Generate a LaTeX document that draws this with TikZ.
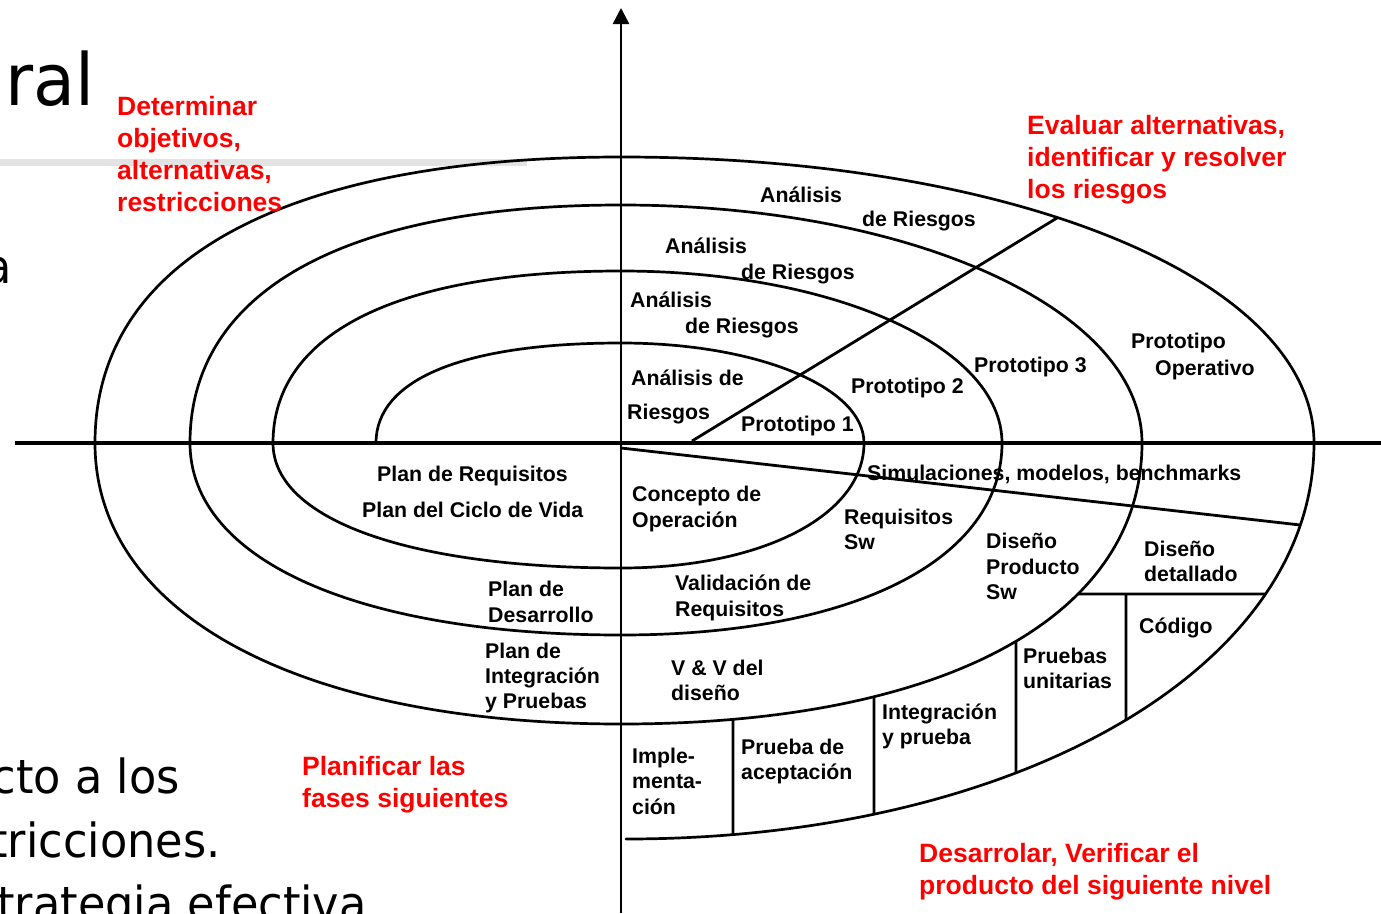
\documentclass[tikz,border=0pt]{standalone}
\usepackage{fontspec}
\setmainfont{Liberation Sans}
\newfontfamily\slidefont[FakeStretch=0.95]{DejaVu Sans}
\usetikzlibrary{arrows.meta,intersections}

\begin{document}
\begin{tikzpicture}[x=1pt,y=-1pt,
  spiral/.style={line width=2.7pt, line cap=round, line join=round},
  divider/.style={line width=2.8pt},
  lbl/.style={anchor=base west, inner sep=0pt, font=\bfseries\fontsize{21.3}{25}\selectfont},
  phase/.style={anchor=base west, inner sep=0pt, text=red, font=\bfseries\fontsize{26.5}{32}\selectfont},
  slide/.style={anchor=base east, inner sep=0pt, font=\slidefont\fontsize{47}{55}\selectfont}
]
\useasboundingbox (0,0) rectangle (1381,913);
\clip (0,0) rectangle (1381,913);

% slide background: title rule and body text
\fill[gray!22] (0,159) rectangle (527,166);
\node[anchor=base west, inner sep=0pt, font=\slidefont\fontsize{72}{80}\selectfont] (title) at (5,105) {ral};
\node[slide] (s1) at (12,283) {a};
\node[slide] (s2) at (180,793) {cto a los};
\node[slide] (s3) at (221,857) {tricciones.};
\node[slide] (s4) at (367,920) {trategia efectiva};

% axes
\draw[line width=3.2pt] (15,443) -- (1381,443);
\draw[line width=2.6pt, -{Triangle[length=16pt,width=16pt]}] (621,913) -- (621,8);

% spiral, quadrant by quadrant
\draw[spiral] (376,443)
  .. controls (376,379) and (464.2,343) .. (621,343)
  .. controls (757,343) and (864,387) .. (864,443)
  .. controls (864,515.5) and (762,568) .. (621,568)
  .. controls (408.7,568) and (273,519.3) .. (273,443)
  .. controls (273,332.9) and (398.3,271) .. (621,271)
  .. controls (834.4,271) and (1002,346.7) .. (1002,443)
  .. controls (1002,560.1) and (853.4,635) .. (621,635)
  .. controls (358.1,635) and (190,560.1) .. (190,443)
  .. controls (190,290.7) and (345.2,205) .. (621,205)
  .. controls (912.8,205) and (1142,309.7) .. (1142,443);
\draw[spiral, name path global=arcB] (1142,443) .. controls (1142,617.2) and (944,724) .. (621,724);
\draw[spiral] (621,724)
  .. controls (300.1,724) and (95,614.4) .. (95,443)
  .. controls (95,260) and (284.4,157) .. (621,157);
\draw[spiral, name path global=arcT] (621,157) .. controls (1016,157) and (1314,280) .. (1314,443);
\draw[spiral, name path global=arcO] (1314,443) .. controls (1314,668.7) and (1016,839) .. (626,839);

% risk / prototype divider
\path[name path=dg] (692,441) -- (1100,191.7);
\path[name intersections={of=dg and arcT, by=dgEnd}];
\draw[divider] (692,441) -- (dgEnd);

% simulations divider
\path[name path=sm] (621,448) -- (1340,529.5);
\path[name intersections={of=sm and arcO, by=smEnd}];
\draw[divider] (621,448) -- (smEnd);

% detailed design / code boxes
\path[name path=hz] (1000,594) -- (1381,594);
\path[name intersections={of=hz and arcB, by=hzL}];
\path[name intersections={of=hz and arcO, by=hzR}];
\draw[divider] (hzL) -- (hzR);

\coordinate (vaT) at (1126,594);
\path[name path=va] (1126,594) -- (1126,900);
\path[name intersections={of=va and arcO, by=vaB}];
\draw[divider] (vaT) -- (vaB);

\path[name path=vb] (1016,450) -- (1016,900);
\path[name intersections={of=vb and arcB, by=vbT}];
\path[name intersections={of=vb and arcO, by=vbB}];
\draw[divider] (vbT) -- (vbB);

\path[name path=vc] (874,450) -- (874,900);
\path[name intersections={of=vc and arcB, by=vcT}];
\path[name intersections={of=vc and arcO, by=vcB}];
\draw[divider] (vcT) -- (vcB);

\path[name path=vd] (733,450) -- (733,900);
\path[name intersections={of=vd and arcB, by=vdT}];
\path[name intersections={of=vd and arcO, by=vdB}];
\draw[divider] (vdT) -- (vdB);

% upper right quadrant labels
\node[lbl] (an1a) at (760,202) {Análisis};
\node[lbl] (an1b) at (862,226) {de Riesgos};
\node[lbl] (an2a) at (665,253) {Análisis};
\node[lbl] (an2b) at (741,279) {de Riesgos};
\node[lbl] (an3a) at (630,307) {Análisis};
\node[lbl] (an3b) at (685,333) {de Riesgos};
\node[lbl] (an4a) at (631,385) {Análisis de};
\node[lbl] (an4b) at (627,419) {Riesgos};
\node[lbl] (p1) at (741,431) {Prototipo 1};
\node[lbl] (p2) at (851,393) {Prototipo 2};
\node[lbl] (p3) at (974,372) {Prototipo 3};
\node[lbl] (po1) at (1131,348) {Prototipo};
\node[lbl] (po2) at (1155,375) {Operativo};

% lower left quadrant labels
\node[lbl] (pr1) at (377,481) {Plan de Requisitos};
\node[lbl] (pr2) at (362,517) {Plan del Ciclo de Vida};
\node[lbl] (pd1) at (488,596) {Plan de};
\node[lbl] (pd2) at (488,622) {Desarrollo};
\node[lbl] (pi1) at (485,658) {Plan de};
\node[lbl] (pi2) at (485,683) {Integración};
\node[lbl] (pi3) at (485,708) {y Pruebas};

% lower right quadrant labels
\node[lbl] (co1) at (632,501) {Concepto de};
\node[lbl] (co2) at (632,527) {Operación};
\node[lbl] (sim) at (867,480) {Simulaciones, modelos, benchmarks};
\node[lbl] (rs1) at (844,524) {Requisitos};
\node[lbl] (rs2) at (844,549) {Sw};
\node[lbl] (vr1) at (675,590) {Validación de};
\node[lbl] (vr2) at (675,616) {Requisitos};
\node[lbl] (dp1) at (986,548) {Diseño};
\node[lbl] (dp2) at (986,574) {Producto};
\node[lbl] (dp3) at (986,599) {Sw};
\node[lbl] (dd1) at (1144,556) {Diseño};
\node[lbl] (dd2) at (1144,581) {detallado};
\node[lbl] (cod) at (1139,633) {Código};
\node[lbl] (vv1) at (671,675) {V \& V del};
\node[lbl] (vv2) at (671,700) {diseño};
\node[lbl] (pu1) at (1023,663) {Pruebas};
\node[lbl] (pu2) at (1023,688) {unitarias};
\node[lbl] (ip1) at (882,719) {Integración};
\node[lbl] (ip2) at (882,744) {y prueba};
\node[lbl] (im1) at (632,763) {Imple-};
\node[lbl] (im2) at (632,788) {menta-};
\node[lbl] (im3) at (632,814) {ción};
\node[lbl] (pa1) at (741,754) {Prueba de};
\node[lbl] (pa2) at (741,779) {aceptación};

% quadrant activities
\node[phase] (q1a) at (117,115) {Determinar};
\node[phase] (q1b) at (117,147) {objetivos,};
\node[phase] (q1c) at (117,179) {alternativas,};
\node[phase] (q1d) at (117,211) {restricciones};
\node[phase] (q2a) at (1027,134) {Evaluar alternativas,};
\node[phase] (q2b) at (1027,166) {identificar y resolver};
\node[phase] (q2c) at (1027,198) {los riesgos};
\node[phase] (q3a) at (302,775) {Planificar las};
\node[phase] (q3b) at (302,807) {fases siguientes};
\node[phase] (q4a) at (919,862) {Desarrolar, Verificar el};
\node[phase] (q4b) at (919,894) {producto del siguiente nivel};
\end{tikzpicture}
\end{document}
